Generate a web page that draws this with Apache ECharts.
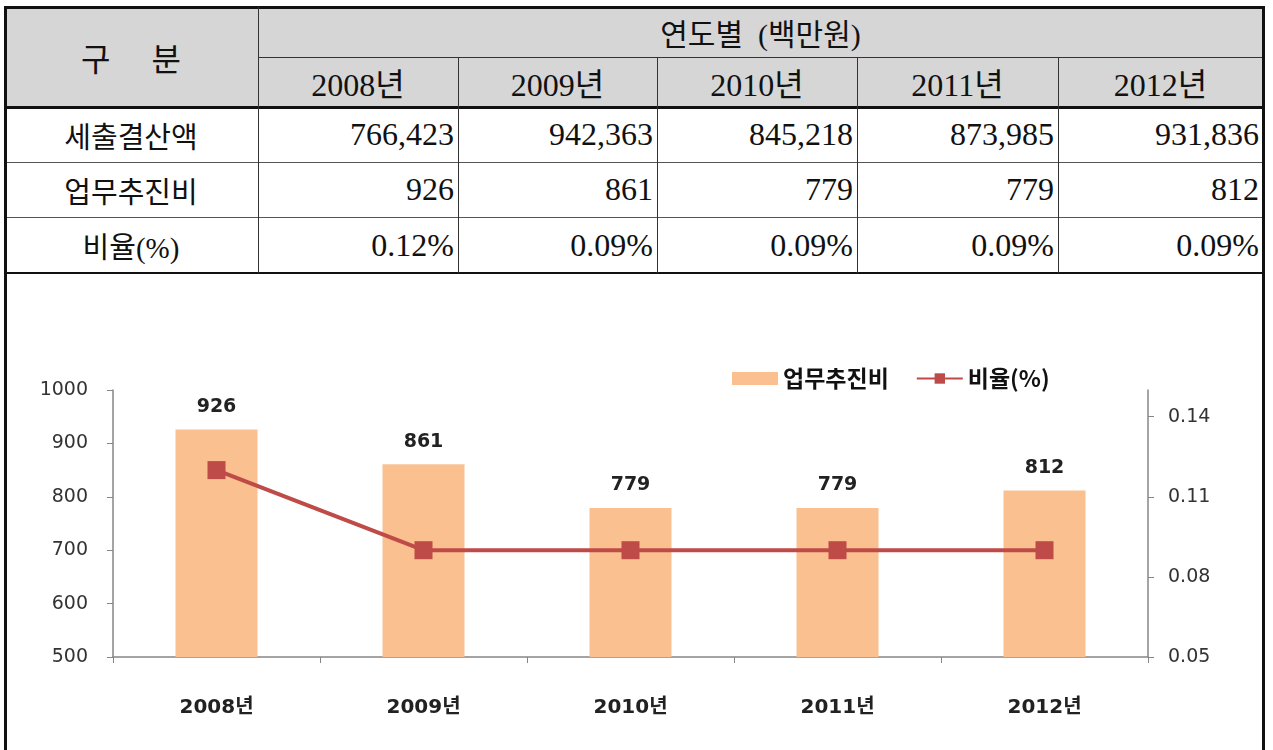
<!DOCTYPE html>
<html>
<head>
<meta charset="utf-8">
<script src="https://cdn.jsdelivr.net/npm/echarts@6/dist/echarts.min.js"></script>
<style>
  html, body { margin: 0; padding: 0; background: #fff; width: 1273px; height: 750px; overflow: hidden; }
  #page { position: absolute; left: 0; top: 0; width: 1273px; height: 750px; }
  .cell { position: absolute; display: flex; align-items: center; box-sizing: border-box; white-space: pre; color: #111; }
  .hl, .vl { position: absolute; }
  #chart { position: absolute; left: 0; top: 273px; width: 1273px; height: 477px; }
</style>
</head>
<body>
<div id="page"></div>
<div id="chart"></div>
<script>
// ---- data ----
const years = ['2008년', '2009년', '2010년', '2011년', '2012년'];
const rowLabels = ['세출결산액', '업무추진비', '비율(%)'];
const settlement = [766423, 942363, 845218, 873985, 931836];
const expenses = [926, 861, 779, 779, 812];
const ratio = [0.12, 0.09, 0.09, 0.09, 0.09];
const leftTicks = [500, 600, 700, 800, 900, 1000];
const rightTicks = [0.05, 0.08, 0.11, 0.14];
const rightMax = 0.15;
const headerLabel = '구 분';
const groupLabel = '연도별  (백만원)';
const barName = '업무추진비';
const lineName = '비율(%)';

// ---- table (HTML) ----
const page = document.getElementById('page');
const xs = [4, 258, 458, 657, 857, 1058, 1263];
const ys = [7, 57, 107, 162, 217, 273];
const serif = "'Liberation Serif', 'Noto Sans CJK KR', serif";

function box(cls, l, t, w, h, css) {
  const d = document.createElement('div');
  d.className = cls;
  d.style.left = l + 'px'; d.style.top = t + 'px';
  d.style.width = w + 'px'; d.style.height = h + 'px';
  Object.assign(d.style, css || {});
  page.appendChild(d);
  return d;
}
function cell(text, l, t, w, h, align, size, extra) {
  const d = box('cell', l, t, w, h, Object.assign({
    justifyContent: align === 'right' ? 'flex-end' : 'center',
    paddingRight: align === 'right' ? '4px' : '0',
    fontFamily: serif, fontSize: size + 'px'
  }, extra || {}));
  d.textContent = text;
  return d;
}
// header background
box('hl', xs[0], ys[0], xs[6] - xs[0], ys[2] - ys[0], { background: '#D6D6D6' });
// header texts
cell(headerLabel, xs[0], ys[0], xs[1] - xs[0], ys[2] - ys[0], 'center', 32, { wordSpacing: '33px' });
cell(groupLabel, xs[1], ys[0], xs[6] - xs[1], ys[1] - ys[0], 'center', 30);
years.forEach((y, i) => cell(y, xs[i + 1], ys[1], xs[i + 2] - xs[i + 1], ys[2] - ys[1], 'center', 32));
// row labels
rowLabels.forEach((r, j) => cell(r, xs[0], ys[j + 2], xs[1] - xs[0], ys[j + 3] - ys[j + 2], 'center', 29));
// values
const rows = [
  settlement.map(v => v.toLocaleString('en-US')),
  expenses.map(v => v.toLocaleString('en-US')),
  ratio.map(v => v.toFixed(2) + '%')
];
rows.forEach((r, j) => r.forEach((v, i) =>
  cell(v, xs[i + 1], ys[j + 2], xs[i + 2] - xs[i + 1], ys[j + 3] - ys[j + 2], 'right', 32)));
// lines
function hline(y, x1, x2, w, c) { box('hl', x1, y - Math.floor(w / 2), x2 - x1, w, { background: c }); }
function vline(x, y1, y2, w, c) { box('vl', x - Math.floor(w / 2), y1, w, y2 - y1, { background: c }); }
hline(ys[0], xs[0], xs[6] + 2, 3, '#111');
hline(ys[1], xs[1], xs[6], 1, '#333');
hline(ys[2], xs[0], xs[6], 3, '#111');
hline(ys[3], xs[0], xs[6], 1, '#555');
hline(ys[4], xs[0], xs[6], 1, '#555');
hline(ys[5], xs[0], xs[6], 2, '#111');
vline(xs[1], ys[0], ys[5], 1, '#333');
for (let i = 2; i <= 5; i++) vline(xs[i], ys[1], ys[5], 1, '#333');
vline(xs[0] + 1, ys[0], 750, 3, '#111');
vline(xs[6], ys[0], 750, 3, '#111');

// ---- chart ----
const chart = echarts.init(document.getElementById('chart'), null, { renderer: 'canvas' });
const sans = "'DejaVu Sans', 'Noto Sans CJK KR', sans-serif";
const axisColor = '#868686';
chart.setOption({
  animation: false,
  backgroundColor: 'transparent',
  grid: { left: 113, right: 125, top: 117, bottom: 93, containLabel: false },
  legend: {
    left: 727, top: 89,
    itemWidth: 46, itemHeight: 13, itemGap: 27,
    textStyle: { fontSize: 23, fontWeight: 'bold', color: '#111', fontFamily: "'Noto Sans CJK KR', sans-serif" },
    data: [{ name: barName, icon: 'rect' }, { name: lineName }]
  },
  xAxis: {
    type: 'category', data: years,
    axisLine: { lineStyle: { color: axisColor, width: 1.5 } },
    axisTick: { show: true, length: 6, lineStyle: { color: axisColor } },
    axisLabel: { margin: 41, fontSize: 20, fontWeight: 'bold', color: '#222', fontFamily: sans }
  },
  yAxis: [
    {
      type: 'value', position: 'left',
      min: leftTicks[0], max: leftTicks[leftTicks.length - 1], interval: leftTicks[1] - leftTicks[0],
      axisLine: { show: true, lineStyle: { color: axisColor, width: 1.5 } },
      axisTick: { show: true, length: 6, lineStyle: { color: axisColor } },
      splitLine: { show: false },
      axisLabel: { margin: 25, fontSize: 19, color: '#333', fontFamily: sans, formatter: v => String(v) }
    },
    {
      type: 'value', position: 'right',
      min: rightTicks[0], max: rightMax, interval: +(rightTicks[1] - rightTicks[0]).toFixed(4),
      axisLine: { show: true, lineStyle: { color: axisColor, width: 1.5 } },
      axisTick: { show: true, length: 6, lineStyle: { color: axisColor } },
      splitLine: { show: false },
      axisLabel: {
        margin: 20, fontSize: 19, color: '#333', fontFamily: sans, showMaxLabel: false,
        formatter: v => (Math.abs(v - rightMax) < 1e-9 ? '' : v.toFixed(2))
      }
    }
  ],
  series: [
    {
      name: barName, type: 'bar', data: expenses, barWidth: 82,
      itemStyle: { color: '#FAC090' },
      label: { show: true, position: 'top', distance: 13, fontSize: 19, fontWeight: 'bold', color: '#222', fontFamily: sans }
    },
    {
      name: lineName, type: 'line', yAxisIndex: 1, data: ratio,
      symbol: 'rect', symbolSize: 18,
      lineStyle: { color: '#BE4B48', width: 4 },
      itemStyle: { color: '#BE4B48' },
      z: 3
    }
  ]
});
</script>
</body>
</html>
